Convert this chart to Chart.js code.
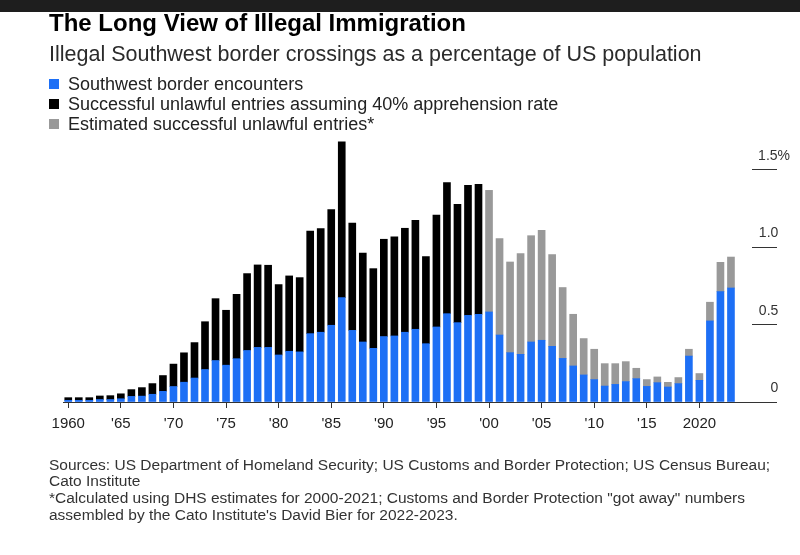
<!DOCTYPE html>
<html>
<head>
<meta charset="utf-8">
<script src="https://cdn.jsdelivr.net/npm/chart.js@4.4.1/dist/chart.umd.min.js"></script>
<style>
html,body{margin:0;padding:0;background:#fff;width:800px;height:555px;overflow:hidden;font-family:"Liberation Sans",Arial,sans-serif;}
#wrap{position:relative;width:800px;height:555px;}
#chart{position:absolute;left:0;top:0;}
.t{position:absolute;white-space:nowrap;line-height:1;}
#bar{position:absolute;left:0;top:0;width:800px;height:12px;background:#1e1e1e;}
#title{left:49px;top:11px;font-size:24px;font-weight:bold;color:#000;}
#sub{left:49px;top:43.5px;font-size:21.5px;color:#2b2b2b;}
.lg{left:68px;font-size:18px;color:#222;}
.sq{position:absolute;left:49px;width:10px;height:10px;}
#foot{left:49px;top:456.7px;font-size:15.5px;line-height:16.8px;color:#333;}
</style>
</head>
<body>
<div id="wrap">
<canvas id="chart" width="800" height="555"></canvas>
<div id="bar"></div>
<div class="t" id="title">The Long View of Illegal Immigration</div>
<div class="t" id="sub">Illegal Southwest border crossings as a percentage of US population</div>
<div class="sq" style="top:79px;background:#1d6ff5"></div>
<div class="t lg" style="top:74.8px">Southwest border encounters</div>
<div class="sq" style="top:99px;background:#000"></div>
<div class="t lg" style="top:94.8px">Successful unlawful entries assuming 40% apprehension rate</div>
<div class="sq" style="top:119px;background:#999"></div>
<div class="t lg" style="top:114.8px">Estimated successful unlawful entries*</div>
<div class="t" id="foot">Sources: US Department of Homeland Security; US Customs and Border Protection; US Census Bureau;<br>Cato Institute<br>*Calculated using DHS estimates for 2000-2021; Customs and Border Protection "got away" numbers<br>assembled by the Cato Institute's David Bier for 2022-2023.</div>
</div>
<script>
const years = [1960,1961,1962,1963,1964,1965,1966,1967,1968,1969,
  1970,1971,1972,1973,1974,1975,1976,1977,1978,1979,
  1980,1981,1982,1983,1984,1985,1986,1987,1988,1989,
  1990,1991,1992,1993,1994,1995,1996,1997,1998,1999,
  2000,2001,2002,2003,2004,2005,2006,2007,2008,2009,
  2010,2011,2012,2013,2014,2015,2016,2017,2018,2019,
  2020,2021,2022,2023];

// Southwest border encounters (% of US population)
const encounters = [0.011,0.011,0.011,0.016,0.016,0.021,0.036,0.038,0.050,0.069,
  0.100,0.128,0.155,0.210,0.268,0.238,0.280,0.333,0.353,0.353,
  0.304,0.328,0.324,0.442,0.451,0.496,0.675,0.463,0.388,0.347,
  0.423,0.427,0.451,0.470,0.377,0.485,0.571,0.513,0.560,0.567,
  0.582,0.433,0.319,0.308,0.388,0.399,0.360,0.282,0.233,0.175,
  0.145,0.103,0.114,0.132,0.151,0.101,0.125,0.097,0.119,0.297,
  0.140,0.524,0.713,0.737];

// Successful unlawful entries assuming 40% apprehension rate
const entries40 = [0.017,0.017,0.017,0.023,0.025,0.032,0.044,0.055,0.069,0.102,
  0.145,0.190,0.229,0.309,0.400,0.355,0.416,0.497,0.533,0.531,
  0.455,0.487,0.480,0.663,0.670,0.748,1.006,0.694,0.575,0.515,
  0.629,0.640,0.672,0.705,0.563,0.724,0.847,0.765,0.841,0.840,
  null,null,null,null,null,null,null,null,null,null,
  null,null,null,null,null,null,null,null,null,null,
  null,null,null,null];

// Estimated successful unlawful entries*
const estimated = [null,null,null,null,null,null,null,null,null,null,
  null,null,null,null,null,null,null,null,null,null,
  null,null,null,null,null,null,null,null,null,null,
  null,null,null,null,null,null,null,null,null,null,
  0.786,0.623,0.586,0.651,0.687,0.711,0.593,0.458,0.334,0.235,
  0.196,0.145,0.134,0.129,0.067,0.044,0.037,0.030,0.039,0.044,
  0.044,0.121,0.190,0.200];

const xTickYears = [1960,1965,1970,1975,1980,1985,1990,1995,2000,2005,2010,2015,2020];
const xTickLabels = ["1960","'65","'70","'75","'80","'85","'90","'95","'00","'05","'10","'15","2020"];
const yTickValues = [0,0.5,1,1.5];
const yTickLabels = ["0   ","0.5   ","1.0   ","1.5%"];

const FONT = '"Liberation Sans", Arial, sans-serif';
const toPts = arr => years.map((y, i) => ({x: y, y: arr[i]}));

new Chart(document.getElementById('chart'), {
  type: 'bar',
  data: {
    datasets: [
      {label: 'Southwest border encounters', data: toPts(encounters), backgroundColor: '#1d6ff5'},
      {label: 'Successful unlawful entries assuming 40% apprehension rate', data: toPts(entries40), backgroundColor: '#000000'},
      {label: 'Estimated successful unlawful entries*', data: toPts(estimated), backgroundColor: '#999999'}
    ]
  },
  options: {
    responsive: false,
    animation: false,
    devicePixelRatio: 1,
    layout: {padding: {left: 63, right: 23, top: 139, bottom: 113}},
    datasets: {bar: {barThickness: 7, borderWidth: 0}},
    plugins: {legend: {display: false}, tooltip: {enabled: false}, title: {display: false}},
    scales: {
      x: {
        type: 'linear', stacked: true, offset: false, min: 1959.5, max: 2025,
        afterBuildTicks: s => { s.ticks = xTickYears.map(v => ({value: v})); },
        afterFit: s => { s.height = 40; },
        grid: {display: true, drawOnChartArea: false, drawTicks: true, tickLength: 6, color: '#333', offset: false},
        border: {display: true, color: '#333', width: 1},
        ticks: {autoSkip: false, maxRotation: 0, padding: 7, color: '#222', font: {size: 15, family: FONT},
          callback: v => xTickLabels[xTickYears.indexOf(v)]}
      },
      y: {
        position: 'right', stacked: true, min: 0, max: 1.7,
        afterBuildTicks: s => { s.ticks = yTickValues.map(v => ({value: v})); },
        afterFit: s => { s.width = 25; },
        grid: {display: true, drawOnChartArea: false, drawTicks: true, tickLength: 25, color: '#333'},
        border: {display: false},
        ticks: {mirror: true, padding: 38, labelOffset: -14, color: '#333', font: {size: 14, family: FONT},
          callback: v => yTickLabels[yTickValues.indexOf(v)]}
      }
    }
  }
});
</script>
</body>
</html>
